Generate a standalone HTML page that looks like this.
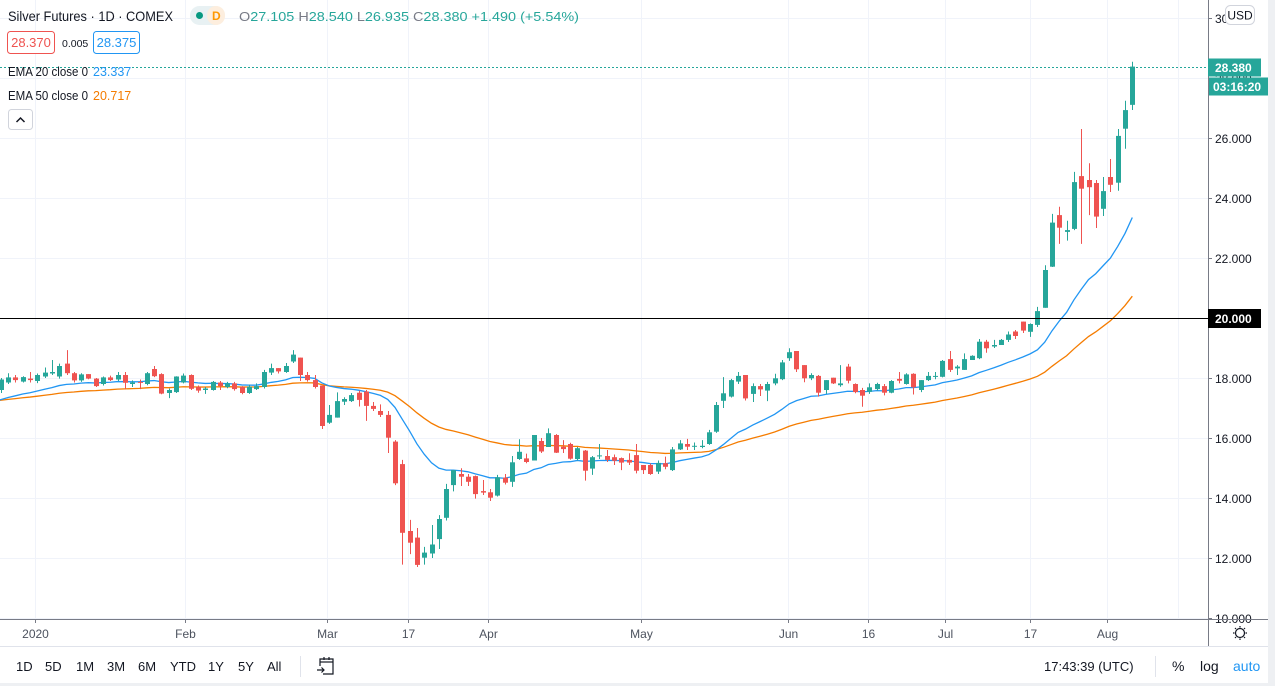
<!DOCTYPE html>
<html><head><meta charset="utf-8">
<style>
html,body{margin:0;padding:0;background:#fff;}
body{width:1275px;height:686px;overflow:hidden;font-family:"Liberation Sans",sans-serif;}
svg text{font-family:"Liberation Sans",sans-serif;}
</style></head>
<body>
<svg id="chart" width="1275" height="686" viewBox="0 0 1275 686" xmlns="http://www.w3.org/2000/svg">
  <rect x="0" y="0" width="1275" height="686" fill="#ffffff"/>
  <rect x="1268" y="0" width="7" height="686" fill="#eef0f3"/>
  <rect x="0" y="683" width="1275" height="3" fill="#eef0f3"/>
  <g id="grid"></g>
  <g id="xlabels"></g>
  <g id="ylabels"></g>
  <g id="plot" clip-path="url(#clip)"></g>
  <defs><clipPath id="clip"><rect x="0" y="0" width="1208" height="619"/></clipPath></defs>
  <line x1="1208.5" y1="0" x2="1208.5" y2="646" stroke="#787b86" stroke-width="1"/>
  <line x1="0" y1="619.5" x2="1268" y2="619.5" stroke="#787b86" stroke-width="1"/>
  <line x1="0" y1="646.5" x2="1268" y2="646.5" stroke="#e0e3eb" stroke-width="1"/>
  <g id="overlays"></g>

  <!-- header -->
  <text x="8" y="21" font-size="14" fill="#131722" textLength="165" lengthAdjust="spacingAndGlyphs">Silver Futures · 1D · COMEX</text>
  <rect x="190" y="6" width="35" height="19" rx="9.5" fill="#e8f1f3"/>
  <rect x="207" y="6" width="18" height="19" rx="9" fill="#fdeede"/>
  <circle cx="199.5" cy="15.5" r="3.5" fill="#089981"/>
  <text x="212" y="20" font-size="12" font-weight="bold" fill="#ff9800">D</text>
  <text x="239" y="21" font-size="13" fill="#26a69a" textLength="340" lengthAdjust="spacingAndGlyphs"><tspan fill="#787b86">O</tspan>27.105  <tspan fill="#787b86">H</tspan>28.540  <tspan fill="#787b86">L</tspan>26.935  <tspan fill="#787b86">C</tspan>28.380  +1.490 (+5.54%)</text>
  <rect x="7.5" y="31.5" width="47" height="22" rx="3" fill="#fff" stroke="#ef5350"/>
  <text x="31" y="47" font-size="13" fill="#ef5350" text-anchor="middle">28.370</text>
  <text x="62" y="47" font-size="10.5" fill="#131722">0.005</text>
  <rect x="93.5" y="31.5" width="46" height="22" rx="3" fill="#fff" stroke="#2196f3"/>
  <text x="116.5" y="47" font-size="13" fill="#2196f3" text-anchor="middle">28.375</text>
  <text x="8" y="76" font-size="12.5" fill="#131722" textLength="80" lengthAdjust="spacingAndGlyphs">EMA 20 close 0</text>
  <text x="93" y="76" font-size="12.5" fill="#2196f3">23.337</text>
  <text x="8" y="100" font-size="12.5" fill="#131722" textLength="80" lengthAdjust="spacingAndGlyphs">EMA 50 close 0</text>
  <text x="93" y="100" font-size="12.5" fill="#f57c00">20.717</text>
  <rect x="8.5" y="109.5" width="24" height="20" rx="3" fill="#fff" stroke="#d1d4dc"/>
  <path d="M16.5 122 L20.5 118 L24.5 122" fill="none" stroke="#131722" stroke-width="1.5"/>
  <rect x="1225.5" y="5.5" width="29" height="19" rx="5" fill="#fff" stroke="#d1d4dc"/>
  <text x="1240" y="19.5" font-size="12" fill="#131722" text-anchor="middle">USD</text>

  <!-- bottom toolbar -->
  <g font-size="13" fill="#131722">
    <text x="16" y="671">1D</text>
    <text x="45" y="671">5D</text>
    <text x="76" y="671">1M</text>
    <text x="107" y="671">3M</text>
    <text x="138" y="671">6M</text>
    <text x="170" y="671">YTD</text>
    <text x="208" y="671">1Y</text>
    <text x="238" y="671">5Y</text>
    <text x="267" y="671">All</text>
  </g>
  <line x1="300.5" y1="656" x2="300.5" y2="677" stroke="#e0e3eb"/>
  <g fill="none" stroke="#131722" stroke-width="1.2">
    <path d="M320 666 V659 H333 V674 H323"/><path d="M320 662 H333"/><path d="M324 657 V660 M329 657 V660"/><path d="M317 670 H324 M321.5 667.5 L324 670 L321.5 672.5"/>
  </g>
  <text x="1044" y="671" font-size="13" fill="#131722">17:43:39 (UTC)</text>
  <line x1="1155.5" y1="656" x2="1155.5" y2="677" stroke="#e0e3eb"/>
  <text x="1172" y="671" font-size="14" fill="#131722">%</text>
  <text x="1200" y="671" font-size="14" fill="#131722">log</text>
  <text x="1233" y="671" font-size="14" fill="#2196f3">auto</text>
  <g fill="none" stroke="#131722" stroke-width="1.2">
    <circle cx="1240" cy="633" r="4.5"/>
    <path d="M1240 626 V627.5 M1240 638.5 V640 M1233 633 H1234.5 M1245.5 633 H1247 M1235 628 L1236 629 M1244 637 L1245 638 M1245 628 L1244 629 M1236 637 L1235 638"/>
  </g>
</svg>
<script>
const opens = [17.6,17.85,18.02,17.88,17.98,17.9,18.05,18.15,18.05,18.48,18.16,17.92,18.13,17.98,17.8,18.02,17.95,18.1,17.8,17.87,17.8,18.3,18.13,17.5,17.53,17.85,18.1,17.7,17.6,17.6,17.85,17.7,17.82,17.7,17.5,17.63,17.7,18.18,18.33,18.2,18.55,18.68,18.1,17.93,17.75,16.51,
16.68,17.21,17.23,17.51,17.55,17.07,16.9,16.77,15.88,15.13,12.9,12.68,12.01,12.15,12.63,13.34,14.43,14.8,14.71,14.73,14.23,14.19,14.08,14.68,14.54,15.3,15.32,15.25,15.9,15.7,16.1,15.71,15.8,15.3,15.58,14.98,15.4,15.4,15.36,15.33,15.27,15.43,15.1,15.1,14.88,
15.16,14.93,15.62,15.8,15.72,15.7,15.8,16.21,17.24,17.38,17.88,18.1,17.47,17.73,17.58,17.82,17.96,18.66,18.9,18.43,17.99,18.07,17.6,18.01,17.76,18.38,17.8,17.6,17.54,17.63,17.73,17.51,17.97,17.8,18.14,17.6,17.93,18.04,18.04,18.63,18.32,18.27,18.6,18.66,19.21,19.05,19.1,
19.27,19.55,19.88,19.54,19.77,20.34,21.71,23.43,22.87,22.97,24.73,24.6,24.5,23.64,24.7,24.51,26.31,27.105];
const highs = [18.0,18.16,18.1,18.06,18.2,18.15,18.35,18.6,18.48,18.93,18.2,18.16,18.13,18.0,18.05,18.08,18.2,18.2,17.92,17.95,18.2,18.4,18.16,17.65,18.06,18.15,18.12,17.75,17.7,17.9,17.9,17.87,17.87,17.73,17.78,17.82,18.27,18.48,18.33,18.5,18.93,18.68,18.2,18.1,17.75,17.1,
17.52,17.36,17.5,17.58,17.6,17.2,17.12,16.9,15.93,15.27,13.27,13.0,12.37,13.1,13.43,14.47,14.93,14.99,14.8,14.75,14.6,14.3,14.77,14.8,15.4,15.96,15.48,16.1,16.0,16.32,16.13,15.93,15.84,15.7,15.6,15.4,15.8,15.6,15.45,15.35,15.49,15.8,15.1,15.15,15.25,
15.38,15.7,15.93,15.97,15.85,15.93,16.27,17.2,18.03,17.97,18.2,18.1,17.82,17.8,17.87,18.14,18.6,18.99,18.9,18.43,18.16,18.1,17.93,18.01,18.43,18.47,17.82,17.67,17.82,17.84,17.8,17.93,18.2,18.16,18.16,17.93,18.2,18.2,18.6,18.9,18.43,18.82,18.76,19.3,19.27,19.27,19.3,
19.55,19.6,19.88,19.82,20.37,21.76,23.47,23.71,23.24,24.87,26.3,25.16,24.6,24.7,25.3,26.3,27.24,28.54];
const lows = [17.5,17.8,17.85,17.85,17.85,17.83,18.0,18.1,17.98,18.1,17.85,17.87,17.96,17.7,17.75,17.9,17.9,17.63,17.7,17.63,17.76,18.03,17.46,17.33,17.5,17.82,17.6,17.51,17.47,17.58,17.6,17.66,17.58,17.46,17.47,17.6,17.65,18.1,18.15,18.17,18.5,17.9,17.88,17.65,16.3,16.47,
16.68,17.1,17.2,17.05,16.57,16.9,16.7,15.5,14.43,11.78,12.13,11.7,11.78,12.0,12.3,13.25,14.22,14.4,14.4,13.98,14.1,13.9,14.05,14.45,14.37,15.27,15.16,15.25,15.5,15.7,15.5,15.5,15.28,15.25,14.58,14.77,15.3,15.2,15.1,14.93,15.1,14.82,14.8,14.77,14.8,
14.96,14.9,15.6,15.6,15.6,15.66,15.77,16.17,17.0,17.35,17.8,17.25,17.2,17.4,17.23,17.76,17.93,18.57,18.2,17.86,17.93,17.38,17.47,17.8,17.71,17.82,17.49,17.04,17.47,17.58,17.42,17.49,17.82,17.78,17.45,17.53,17.9,17.96,18.02,18.2,18.1,18.27,18.6,18.63,18.84,19.0,19.1,
19.2,19.3,19.5,19.37,19.7,20.34,21.7,22.47,22.58,22.93,22.47,23.43,23.0,23.4,24.2,24.24,25.64,26.935];
const closes = [17.95,18.02,17.93,18.03,17.93,18.1,18.18,18.2,18.4,18.16,17.92,18.12,17.98,17.73,18.02,17.93,18.1,17.84,17.85,17.85,18.16,18.06,17.48,17.6,18.05,18.08,17.64,17.58,17.65,17.87,17.73,17.82,17.63,17.5,17.71,17.73,18.2,18.33,18.22,18.4,18.78,18.1,17.93,17.7,16.4,16.77,
17.23,17.3,17.43,17.27,17.07,16.97,16.77,16.01,14.49,12.84,12.51,11.77,12.18,12.45,13.3,14.3,14.93,14.71,14.54,14.13,14.18,14.01,14.69,14.51,15.19,15.54,15.2,16.1,15.55,16.16,15.51,15.63,15.31,15.66,14.91,15.36,15.42,15.27,15.24,15.18,15.18,14.91,14.93,14.8,15.17,
15.04,15.62,15.82,15.71,15.74,15.74,16.19,17.1,17.49,17.93,18.07,17.32,17.73,17.62,17.8,17.99,18.52,18.86,18.29,17.99,18.1,17.51,17.93,17.82,17.82,17.91,17.53,17.41,17.69,17.8,17.51,17.9,17.91,18.12,17.69,17.93,18.07,18.07,18.57,18.27,18.38,18.63,18.74,19.21,18.99,19.1,19.27,
19.45,19.4,19.58,19.8,20.23,21.6,23.18,23.01,22.93,24.53,24.31,24.36,23.38,24.23,24.44,26.07,26.93,28.38];
const yTicks = [10,12,14,16,18,20,22,24,26,28,30];
const yTickLabels = ["10.000","12.000","14.000","16.000","18.000","20.000","22.000","24.000","26.000","28.000","30.000"];
const xTickPos = [4.7,25.2,44.7,55.8,66.7,87.7,107.8,118.8,129.3,141,151.5,161.2];
const xTickLabels = ["2020","Feb","Mar","17","Apr","May","Jun","16","Jul","17","Aug",""];
const emaSeed20 = 17.21;
const emaSeed50 = 17.23;
const hLineLevel = 20;
const lastPrice = 28.38;

const NS = "http://www.w3.org/2000/svg";
const xs = i => 0.8 + i * 7.3;
const ys = v => 318 - (v - 20) * 30;
function mk(tag, attrs, parent) {
  const e = document.createElementNS(NS, tag);
  for (const k in attrs) e.setAttribute(k, attrs[k]);
  parent.appendChild(e);
  return e;
}
const grid = document.getElementById('grid');
const plot = document.getElementById('plot');
const xl = document.getElementById('xlabels');
const yl = document.getElementById('ylabels');
const ov = document.getElementById('overlays');

yTicks.forEach((t, k) => {
  const y = Math.round(ys(t)) + 0.5;
  const g = mk('line', {x1: 0, x2: 1208, y1: y, y2: y, stroke: '#f0f3fa'}, grid);
  
  
  const tk = mk('line', {x1: 1208, x2: 1212, y1: y, y2: y, stroke: '#787b86'}, yl);
  
  
  const tx = mk('text', {x: 1215, y: y + 4.5, 'font-size': 12, fill: '#131722'}, yl);
  tx.textContent = yTickLabels[k];
  
  
});
xTickPos.forEach((p, k) => {
  const x = Math.round(xs(p)) + 0.5;
  const g = mk('line', {x1: x, x2: x, y1: 0, y2: 619, stroke: '#f0f3fa'}, grid);
  
  
  if (!xTickLabels[k]) return;
  const tk = mk('line', {x1: x, x2: x, y1: 619, y2: 623, stroke: '#787b86'}, xl);
  
  
  const tx = mk('text', {x: x, y: 638, 'font-size': 12, fill: '#4c525e', 'text-anchor': 'middle'}, xl);
  tx.textContent = xTickLabels[k];
  
  
});

function ema(seed, n) {
  const k = 2 / (n + 1); let e = seed; const out = [];
  closes.forEach(c => { e = c * k + e * (1 - k); out.push(e); });
  return out;
}
const e20 = ema(emaSeed20, 20), e50 = ema(emaSeed50, 50);
const p50 = mk('polyline', {points: [[xs(-1), ys(emaSeed50)]].concat(e50.map((v, i) => [xs(i), ys(v)])).map(p => p.join(',')).join(' '), fill: 'none', stroke: '#f57c00', 'stroke-width': 1.3}, plot);


const p20 = mk('polyline', {points: [[xs(-1), ys(emaSeed20)]].concat(e20.map((v, i) => [xs(i), ys(v)])).map(p => p.join(',')).join(' '), fill: 'none', stroke: '#2196f3', 'stroke-width': 1.3}, plot);



closes.forEach((c, i) => {
  const o = opens[i], up = c >= o, col = up ? '#26a69a' : '#ef5350';
  const x = Math.round(xs(i));
  const w = mk('line', {x1: x + 0.5, x2: x + 0.5, y1: ys(highs[i]), y2: ys(lows[i]), stroke: col, 'stroke-width': 1}, plot);
  
  
  const top = ys(Math.max(o, c)), bot = ys(Math.min(o, c));
  const b = mk('rect', {x: x - 2, y: top, width: 5, height: Math.max(1, bot - top), fill: col}, plot);
  
  
});

const hy = Math.round(ys(hLineLevel)) + 0.5;
const hl = mk('line', {x1: 0, x2: 1208, y1: hy, y2: hy, stroke: '#000', 'stroke-width': 1}, ov);


const hb = mk('rect', {x: 1208, y: hy - 9.5, width: 53, height: 19, fill: '#000'}, ov);


const ht = mk('text', {x: 1215, y: hy + 4.5, 'font-size': 12, 'font-weight': 'bold', fill: '#fff'}, ov);
ht.textContent = hLineLevel.toFixed(3);



const ly = Math.round(ys(lastPrice)) + 0.5;
const ll = mk('line', {x1: 0, x2: 1208, y1: ly, y2: ly, stroke: '#26a69a', 'stroke-width': 1, 'stroke-dasharray': '2,2'}, ov);


const lb = mk('rect', {x: 1208, y: ly - 9, width: 53, height: 18, fill: '#26a69a'}, ov);


const lt = mk('text', {x: 1215, y: ly + 4.5, 'font-size': 12, 'font-weight': 'bold', fill: '#fff'}, ov);
lt.textContent = lastPrice.toFixed(3);


const cb = mk('rect', {x: 1209, y: ly + 10, width: 59, height: 18, fill: '#26a69a'}, ov);


const ct = mk('text', {x: 1213, y: ly + 23.5, 'font-size': 12, 'font-weight': 'bold', fill: '#fff'}, ov);
ct.textContent = '03:16:20';


</script>
</body></html>
